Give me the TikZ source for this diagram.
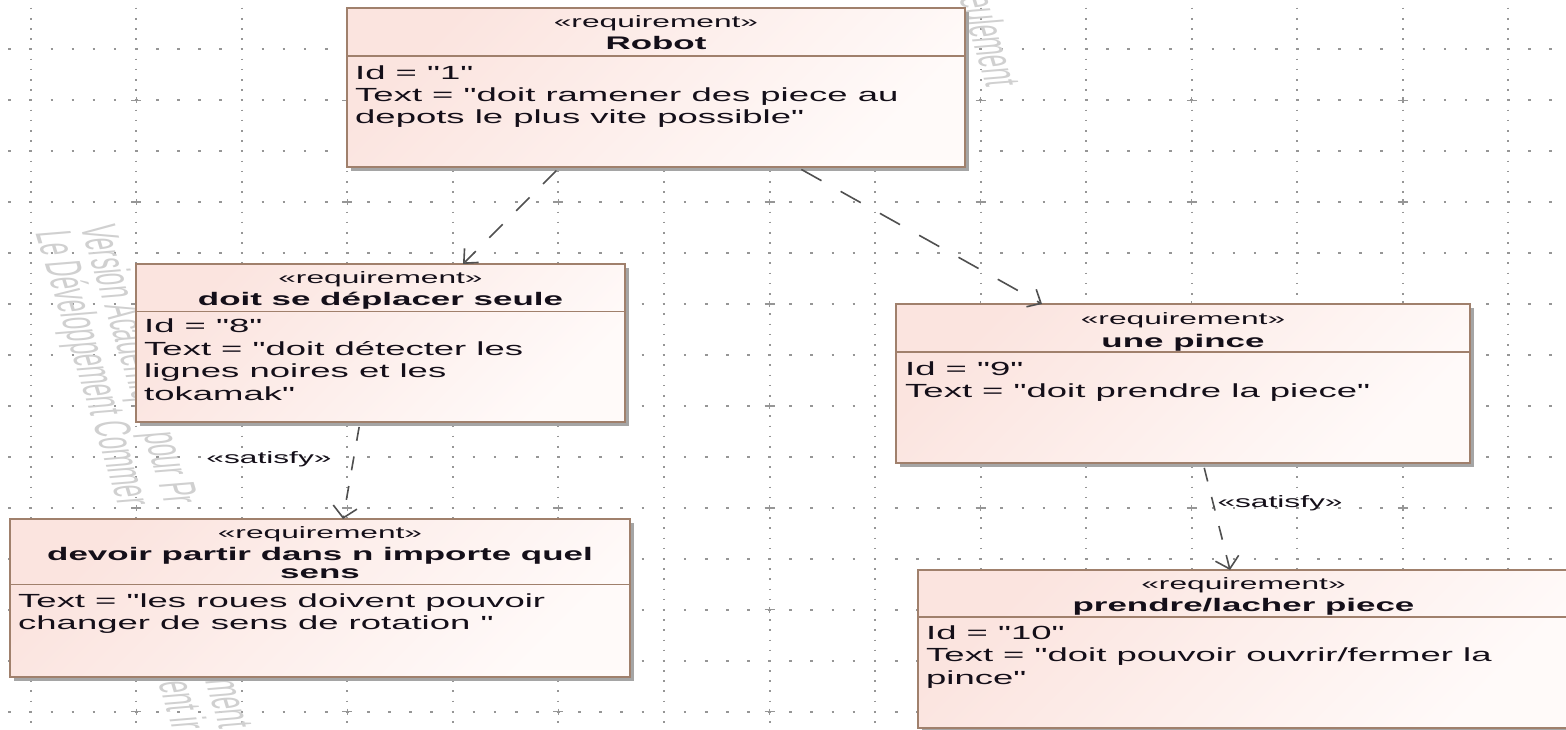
\documentclass[tikz,border=0pt]{standalone}
\usepackage{fontspec}
\setmainfont{Liberation Sans}[FakeStretch=1.92, Ligatures=TeXOff]
\newfontfamily\wmfont{Liberation Sans}[Ligatures=TeXOff]
\usetikzlibrary{arrows.meta,shadows}
\definecolor{reqtop}{RGB}{251,228,223}
\definecolor{reqbot}{RGB}{255,250,249}
\definecolor{reqborder}{RGB}{160,128,108}
\definecolor{shadowgray}{RGB}{165,165,165}
\definecolor{griddot}{RGB}{150,150,150}
\definecolor{wmgray}{RGB}{208,208,208}
\definecolor{linkgray}{RGB}{80,80,80}
\definecolor{txt}{RGB}{20,15,25}
\newcommand\rqbody{\fontsize{19}{22}\selectfont}
\newcommand\rqstereo{\fontsize{16.5}{19}\selectfont}
\newcommand\rqtitle{\fontsize{18.2}{18}\selectfont\bfseries}
\newcommand\rqwm{\wmfont\fontsize{22.2}{22}\selectfont}
\begin{document}
\begin{tikzpicture}[x=1pt,y=-1pt,
  reqbox/.style={draw=reqborder, line width=1.8pt, top color=reqtop, bottom color=reqbot,
    shading angle=45, rectangle, inner sep=0pt, outer sep=0pt, anchor=north west,
    drop shadow={shadow xshift=4pt, shadow yshift=-4pt, fill=shadowgray, opacity=1}},
  sepline/.style={draw=reqborder, line width=1.5pt},
  rqst/.style={anchor=base, inner sep=0pt, font=\rqstereo, text=txt},
  rqti/.style={anchor=base, inner sep=0pt, font=\rqtitle, text=txt},
  rqbd/.style={anchor=base west, inner sep=0pt, font=\rqbody, text=txt},
  dep/.style={draw=linkgray, line width=1.6pt, shorten <=5pt},
  wm/.style={anchor=base west, inner sep=0pt, font=\rqwm, text=wmgray,
    xscale=1.92, rotate=-81, yscale=1.2, transform shape},
]
\useasboundingbox (0,0) rectangle (1566,730);
\fill[white] (0,0) rectangle (1566,730);
% grid
\foreach \j in {-1,...,13} {
  \draw[griddot, line width=1.8pt, dash pattern=on 2.6pt off 18.51pt]
    (-12.82,{49.3+50.95*\j}) -- (1590,{49.3+50.95*\j});
}
\foreach \i in {0,...,14} {
  \draw[griddot, line width=2pt, dash pattern=on 1.6pt off 8.59pt]
    ({30.7+105.55*\i},-12.64) -- ({30.7+105.55*\i},745);
}
\foreach \i in {1,3,...,13} {
  \foreach \j in {1,3,...,13} {
    \draw[griddot, line width=1.4pt]
      ({30.7+105.55*\i-5},{49.3+50.95*\j}) -- ++(10,0)
      ({30.7+105.55*\i},{49.3+50.95*\j-3}) -- ++(0,6);
  }
}
% watermark fragments
\node[wm] (w1) at (80,226) {Version Académique pour Pr};
\node[wm] (w2) at (35,232) {Le Développement Commer};
\node[wm] (w3) at (201,668) {ement};
\node[wm] (w4) at (158,682) {ent ir};
\node[wm] (w5) at (959,-3) {eulement};
% box 1
\node[reqbox, minimum width=618pt, minimum height=159pt] (r1) at (347,8) {};
\draw[sepline] (r1.west |- 0,56) -- (r1.east |- 0,56);
\node[rqst] (r1s) at (656,28) {«requirement»};
\node[rqti] (r1t) at (656,50) {Robot};
\node[rqbd] (r1a) at (355,79.5) {Id = "1"};
\node[rqbd] (r1b) at (355,102) {Text = "doit ramener des piece au};
\node[rqbd] (r1c) at (355,124) {depots le plus vite possible"};
% box 2
\node[reqbox, minimum width=489pt, minimum height=158pt] (r2) at (136,264) {};
\draw[sepline] (r2.west |- 0,311.5) -- (r2.east |- 0,311.5);
\node[rqst] (r2s) at (380.5,283) {«requirement»};
\node[rqti] (r2t) at (380.5,305) {doit se déplacer seule};
\node[rqbd] (r2a) at (144,332.5) {Id = "8"};
\node[rqbd] (r2b) at (144,355) {Text = "doit détecter les};
\node[rqbd] (r2c) at (144,377.5) {lignes noires et les};
\node[rqbd] (r2d) at (144,400) {tokamak"};
% box 3
\node[reqbox, minimum width=574pt, minimum height=159pt] (r3) at (896,304) {};
\draw[sepline] (r3.west |- 0,352) -- (r3.east |- 0,352);
\node[rqst] (r3s) at (1183,324) {«requirement»};
\node[rqti] (r3t) at (1183,347) {une pince};
\node[rqbd] (r3a) at (905,375.5) {Id = "9"};
\node[rqbd] (r3b) at (905,397.5) {Text = "doit prendre la piece"};
% box 4
\node[reqbox, minimum width=620pt, minimum height=158pt] (r4) at (10,519) {};
\draw[sepline] (r4.west |- 0,584.5) -- (r4.east |- 0,584.5);
\node[rqst] (r4s) at (320,538.5) {«requirement»};
\node[rqti] (r4t) at (320,560) {devoir partir dans n importe quel};
\node[rqti] (r4u) at (320,578.5) {sens};
\node[rqbd] (r4a) at (18,607) {Text = "les roues doivent pouvoir};
\node[rqbd] (r4b) at (18,629) {changer de sens de rotation "};
% box 5
\node[reqbox, minimum width=651pt, minimum height=158pt] (r5) at (918,570) {};
\draw[sepline] (r5.west |- 0,617) -- (r5.east |- 0,617);
\node[rqst] (r5s) at (1243.5,589.5) {«requirement»};
\node[rqti] (r5t) at (1243.5,611.5) {prendre/lacher piece};
\node[rqbd] (r5a) at (926,639) {Id = "10"};
\node[rqbd] (r5b) at (926,661.5) {Text = "doit pouvoir ouvrir/fermer la};
\node[rqbd] (r5c) at (926,684) {pince"};
% connectors
\draw[dep, dash pattern=on 19pt off 19pt, -{Straight Barb[length=11pt,width=20pt]}]
  (560,0 |- r1.south) -- (463,0 |- r2.north);
\draw[dep, dash pattern=on 23pt off 22pt, -{Straight Barb[length=11pt,width=20pt]}]
  (797,0 |- r1.south) -- (1042,0 |- r3.north);
\draw[dep, dash pattern=on 14pt off 16pt, -{Straight Barb[length=11pt,width=24pt]}]
  (360,0 |- r2.south) -- (343,0 |- r4.north);
\draw[dep, dash pattern=on 14pt off 16pt, -{Straight Barb[length=11pt,width=24pt]}]
  (1203,0 |- r3.south) -- (1230,0 |- r5.north);
% labels
\node[rqst, anchor=center] (l1) at (269,459) {«satisfy»};
\node[rqst, anchor=center] (l2) at (1280,503) {«satisfy»};
\end{tikzpicture}
\end{document}
